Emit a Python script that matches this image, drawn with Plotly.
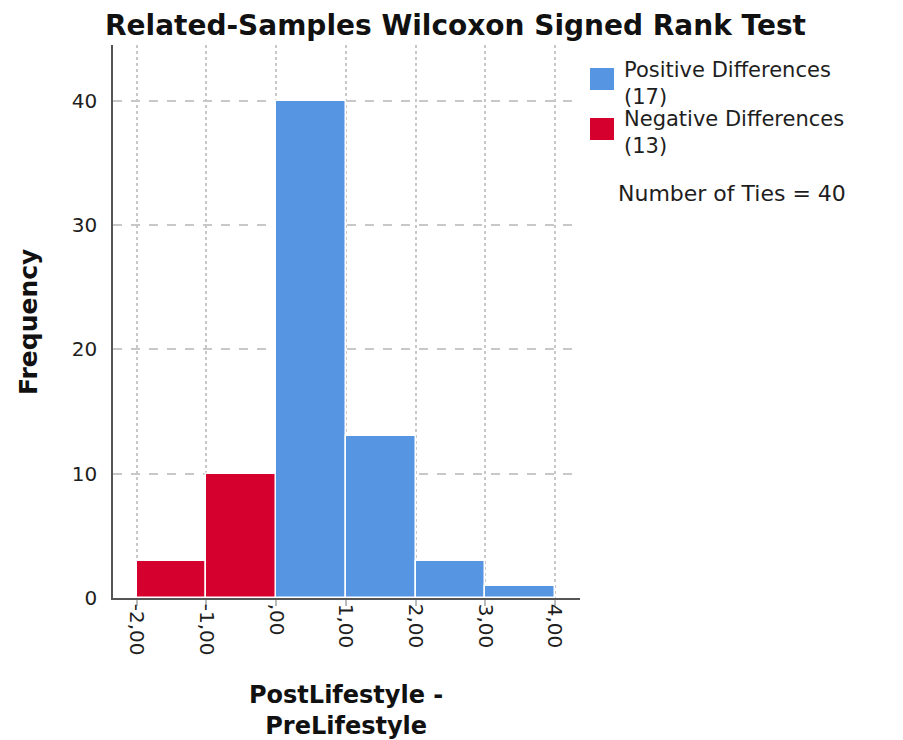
import plotly.graph_objects as go

bin_left = [-2, -1, 0, 1, 2, 3]
freq = [3, 10, 40, 13, 3, 1]
sign = ["neg", "neg", "pos", "pos", "pos", "pos"]
x_ticks = [-2, -1, 0, 1, 2, 3, 4]
x_tick_labels = ["-2,00", "-1,00", ",00", "1,00", "2,00", "3,00", "4,00"]
y_ticks = [0, 10, 20, 30, 40]
pos_label = ["Positive Differences", "(17)"]
neg_label = ["Negative Differences", "(13)"]
ties_text = "Number of Ties = 40"
title_text = "Related-Samples Wilcoxon Signed Rank Test"
x_title = ["PostLifestyle -", "PreLifestyle"]
y_title = "Frequency"

BLUE = "#5595E2"
RED = "#D6002F"
FONT = "DejaVu Sans, Verdana, sans-serif"
TXT = "#1e1e1e"

# page offset: body margin 8px
W, H = 895, 732
L, R, T, B = 105, 323, 37, 142
PW, PH = W - L - R, H - T - B


def px(xpage):
    return (xpage - 8 - L) / PW


def py(ypage):
    return (H - B + 8 - ypage) / PH


fig = go.Figure()
for key, color in [("pos", BLUE), ("neg", RED)]:
    xs = [b + 0.5 for b, s in zip(bin_left, sign) if s == key]
    ys = [f for f, s in zip(freq, sign) if s == key]
    fig.add_trace(go.Bar(x=xs, y=ys, width=1, showlegend=False,
                         marker=dict(color=color, line=dict(color="white", width=1.5))))

fig.update_layout(
    width=W, height=H,
    plot_bgcolor="white", paper_bgcolor="white",
    margin=dict(l=L, r=R, t=T, b=B, autoexpand=False),
    bargap=0,
    title=dict(text="<b>" + title_text + "</b>",
               xref="container", x=0.5, xanchor="center",
               yref="container", y=1 - 17 / H, yanchor="middle",
               font=dict(family=FONT, size=28, color="#111")),
    font=dict(family=FONT, color=TXT),
    showlegend=False,
)
fig.update_xaxes(range=[-2.34, 4.36], tickvals=x_ticks, ticktext=x_tick_labels,
                 tickangle=90, tickfont=dict(family=FONT, size=20, color=TXT),
                 showline=True, linecolor="#555", linewidth=1.5,
                 showgrid=True, gridcolor="#c8c8c8", griddash="dot", gridwidth=1.5,
                 ticks="outside", ticklen=6, tickcolor="#bbbbbb", tickwidth=1.5,
                 ticklabelstandoff=-6,
                 zeroline=False, automargin=False)
fig.update_yaxes(range=[0, 44.5], tickvals=y_ticks,
                 tickfont=dict(family=FONT, size=20, color=TXT),
                 showline=True, linecolor="#555", linewidth=1.5,
                 showgrid=True, gridcolor="#c8c8c8", griddash="dash", gridwidth=1.5,
                 ticks="", ticklabelstandoff=10, zeroline=False, automargin=False)

# axis titles
fig.add_annotation(text="<b>" + y_title + "</b>", xref="paper", yref="paper",
                   x=px(28), y=py(322), textangle=-90, showarrow=False,
                   xanchor="center", yanchor="middle",
                   font=dict(family=FONT, size=25, color="#111"))
fig.add_annotation(text="<b>" + "<br>".join(x_title) + "</b>", xref="paper", yref="paper",
                   x=px(346), y=py(710), showarrow=False,
                   xanchor="center", yanchor="middle", borderpad=0,
                   font=dict(family=FONT, size=24, color="#111"))

# legend (drawn manually for large swatches)
for lines, color, top in [(pos_label, BLUE, 68), (neg_label, RED, 118)]:
    fig.add_shape(type="rect", xref="paper", yref="paper",
                  x0=px(590), x1=px(614), y0=py(top), y1=py(top + 22),
                  fillcolor=color, line=dict(width=0))
    fig.add_annotation(text="<br>".join(lines), xref="paper", yref="paper",
                       x=px(623), y=py(top + 15), showarrow=False,
                       xanchor="left", yanchor="middle", align="left", borderpad=0,
                       font=dict(family=FONT, size=21, color=TXT))

fig.add_annotation(text=ties_text, xref="paper", yref="paper", x=px(616), y=py(193),
                   xanchor="left", yanchor="middle", showarrow=False,
                   font=dict(family=FONT, size=22, color=TXT))

fig.write_html("out.html")
